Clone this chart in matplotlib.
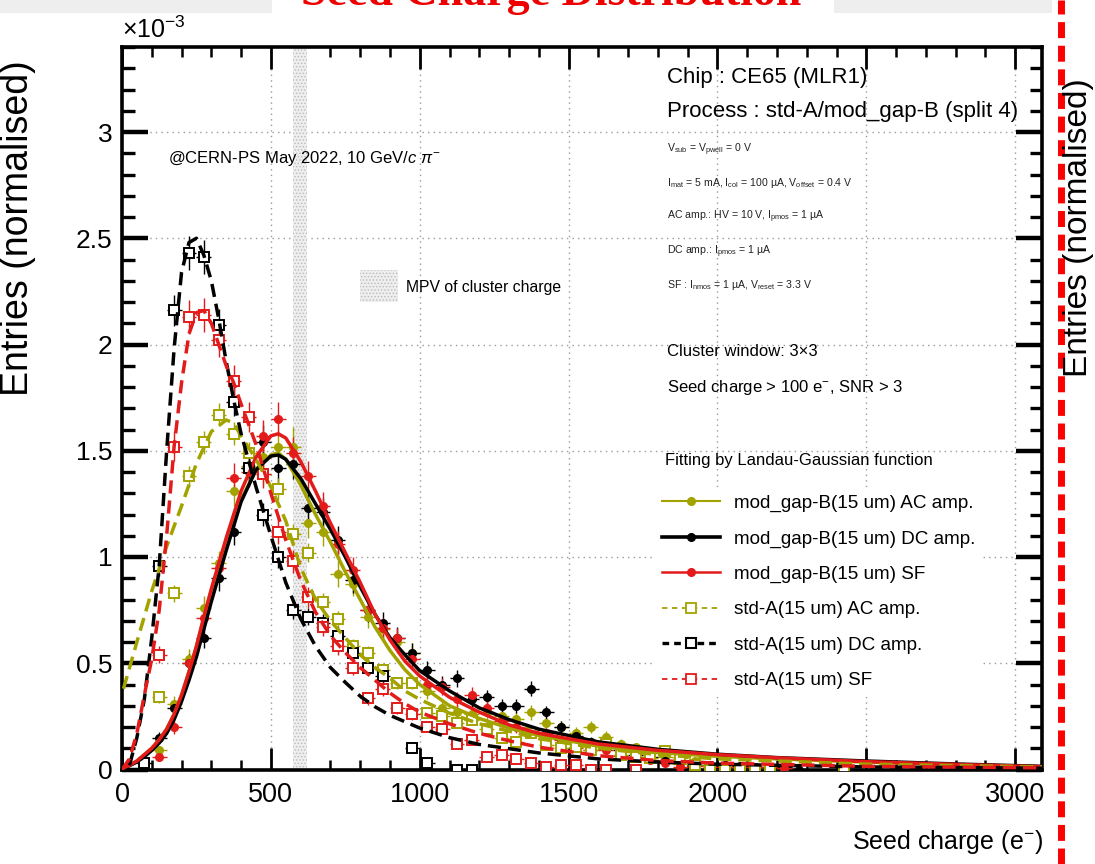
import matplotlib
matplotlib.use('Agg')
import matplotlib.pyplot as plt
from matplotlib.lines import Line2D
from matplotlib.patches import Rectangle
from matplotlib.ticker import MultipleLocator, FuncFormatter

plt.rcParams['font.family'] = ['Liberation Sans', 'DejaVu Sans']
plt.rcParams['mathtext.fontset'] = 'custom'
plt.rcParams['mathtext.rm'] = 'Liberation Sans'
plt.rcParams['mathtext.it'] = 'Liberation Sans:italic'
plt.rcParams['mathtext.bf'] = 'Liberation Sans:bold'
plt.rcParams['hatch.linewidth'] = 0.6

# ---------------- data (y in units of 1e-3) ----------------
BIN_HALF_WIDTH = 25

B_AC_X = [125, 175, 225, 275, 325, 375, 425, 475, 525, 575, 625, 675, 725, 775, 825, 875, 925, 975,
          1025, 1075, 1125, 1175, 1225, 1275, 1325, 1375, 1425, 1475, 1525, 1575, 1625, 1675, 1725,
          1775, 1825, 1875, 1925, 1975, 2025, 2075, 2125, 2175, 2225]
B_AC_Y = [0.09, 0.31, 0.52, 0.76, 0.97, 1.31, 1.43, 1.47, 1.52, 1.52, 1.16, 1.12, 0.92, 0.875, 0.72,
          0.66, 0.60, 0.55, 0.37, 0.29, 0.27, 0.26, 0.27, 0.25, 0.24, 0.27, 0.22, 0.20, 0.17, 0.20,
          0.155, 0.12, 0.105, 0.08, 0.06, 0.025, 0.04, 0.02, 0.02, 0.015, 0.01, 0.01, 0.005]
B_AC_E = [0.02, 0.035, 0.045, 0.055, 0.06, 0.07, 0.075, 0.075, 0.08, 0.09, 0.07, 0.07, 0.06, 0.06, 0.055,
          0.05, 0.05, 0.045, 0.04, 0.035, 0.035, 0.035, 0.035, 0.035, 0.03, 0.035, 0.03, 0.03, 0.028,
          0.03, 0.025, 0.022, 0.02, 0.018, 0.016, 0.01, 0.012, 0.008, 0.008, 0.007, 0.006, 0.006, 0.005]

B_DC_X = [125, 175, 225, 275, 325, 375, 425, 475, 525, 575, 625, 675, 725, 775, 825, 875, 925, 975,
          1025, 1075, 1125, 1175, 1225, 1275, 1325, 1375, 1425, 1475, 1525, 1575, 1625, 1675, 1725,
          1775, 1825, 1875, 1925, 1975, 2025, 2075, 2125, 2175, 2225, 2275]
B_DC_Y = [0.15, 0.29, 0.50, 0.62, 0.90, 1.12, 1.42, 1.54, 1.42, 1.44, 1.23, 1.21, 1.08, 0.89, 0.75,
          0.69, 0.62, 0.55, 0.47, 0.40, 0.43, 0.33, 0.34, 0.30, 0.30, 0.38, 0.27, 0.20, 0.16, 0.13,
          0.11, 0.09, 0.07, 0.06, 0.04, 0.04, 0.03, 0.02, 0.02, 0.015, 0.01, 0.01, 0.01, 0.0]
B_DC_E = [0.025, 0.035, 0.045, 0.05, 0.06, 0.065, 0.075, 0.08, 0.075, 0.075, 0.07, 0.07, 0.065, 0.06,
          0.055, 0.05, 0.05, 0.045, 0.042, 0.04, 0.04, 0.035, 0.035, 0.033, 0.033, 0.035, 0.03, 0.027,
          0.024, 0.022, 0.02, 0.018, 0.016, 0.015, 0.012, 0.012, 0.011, 0.009, 0.009, 0.008, 0.006,
          0.006, 0.006, 0.004]

B_SF_X = [125, 175, 225, 275, 325, 375, 425, 475, 525, 575, 625, 675, 725, 775, 825, 875, 925, 975,
          1025, 1075, 1125, 1175, 1225, 1275, 1325, 1375, 1425, 1475, 1525, 1575, 1625, 1675, 1725,
          1775, 1825, 1875, 1925, 1975, 2025, 2075, 2125, 2175, 2225]
B_SF_Y = [0.06, 0.20, 0.50, 0.715, 0.95, 1.37, 1.40, 1.57, 1.65, 1.49, 1.38, 1.24, 1.06, 0.94, 0.75,
          0.665, 0.62, 0.52, 0.40, 0.39, 0.33, 0.35, 0.29, 0.23, 0.20, 0.18, 0.17, 0.14, 0.10, 0.09,
          0.09, 0.065, 0.06, 0.045, 0.03, 0.01, 0.015, 0.013, 0.01, 0.01, 0.01, 0.01, 0.005]
B_SF_E = [0.018, 0.032, 0.045, 0.055, 0.06, 0.07, 0.07, 0.075, 0.08, 0.075, 0.072, 0.068, 0.062, 0.06,
          0.052, 0.05, 0.048, 0.045, 0.04, 0.04, 0.035, 0.036, 0.032, 0.028, 0.026, 0.025, 0.025,
          0.022, 0.018, 0.018, 0.018, 0.015, 0.015, 0.013, 0.01, 0.006, 0.008, 0.007, 0.006, 0.006,
          0.006, 0.006, 0.004]

A_AC_X = [125, 175, 225, 275, 325, 375, 425, 475, 525, 575, 625, 675, 725, 775, 825, 875, 925, 975,
          1025, 1075, 1125, 1175, 1225, 1275, 1325, 1375, 1425, 1475, 1525, 1575, 1625, 1675, 1725,
          1775, 1825, 1875, 1925, 1975, 2025, 2075, 2125, 2175, 2425]
A_AC_Y = [0.34, 0.83, 1.38, 1.54, 1.67, 1.58, 1.49, 1.39, 1.32, 1.11, 1.02, 0.79, 0.71, 0.58, 0.55,
          0.47, 0.405, 0.405, 0.265, 0.25, 0.22, 0.235, 0.19, 0.15, 0.13, 0.17, 0.115, 0.10, 0.107,
          0.09, 0.12, 0.07, 0.06, 0.053, 0.088, 0.053, 0.02, 0.0, 0.0, 0.0, 0.0, 0.0, 0.0]
A_AC_E = [0.025, 0.04, 0.05, 0.055, 0.055, 0.055, 0.052, 0.05, 0.05, 0.045, 0.045, 0.04, 0.038, 0.034,
          0.033, 0.03, 0.028, 0.028, 0.022, 0.022, 0.02, 0.021, 0.019, 0.017, 0.016, 0.018, 0.015,
          0.014, 0.014, 0.013, 0.015, 0.012, 0.011, 0.01, 0.013, 0.01, 0.006, 0.003, 0.003, 0.003,
          0.003, 0.003, 0.003]

A_DC_X = [75, 125, 175, 225, 275, 325, 375, 425, 475, 525, 575, 625, 675, 725, 775, 825, 875, 975,
          1025, 1125, 1175]
A_DC_Y = [0.03, 0.96, 2.16, 2.43, 2.41, 2.09, 1.73, 1.42, 1.20, 1.00, 0.75, 0.72, 0.69, 0.63, 0.55,
          0.48, 0.44, 0.10, 0.03, 0.0, 0.0]
A_DC_E = [0.01, 0.05, 0.075, 0.08, 0.08, 0.075, 0.068, 0.06, 0.055, 0.05, 0.043, 0.042, 0.041, 0.039,
          0.037, 0.034, 0.033, 0.016, 0.009, 0.003, 0.003]

A_SF_X = [125, 175, 225, 275, 325, 375, 425, 475, 525, 575, 625, 675, 725, 775, 825, 875, 925, 975,
          1025, 1075, 1125, 1175, 1225, 1275, 1325, 1375, 1425, 1475, 1525, 1575, 1625, 1725]
A_SF_Y = [0.54, 1.52, 2.13, 2.14, 2.02, 1.83, 1.66, 1.39, 1.12, 0.98, 0.81, 0.67, 0.58, 0.48, 0.335,
          0.38, 0.29, 0.26, 0.20, 0.19, 0.12, 0.14, 0.06, 0.07, 0.05, 0.03, 0.013, 0.02, 0.02, 0.0,
          0.0, 0.0]
A_SF_E = [0.04, 0.07, 0.08, 0.08, 0.078, 0.074, 0.07, 0.064, 0.057, 0.053, 0.048, 0.043, 0.04, 0.036,
          0.03, 0.032, 0.028, 0.026, 0.023, 0.022, 0.017, 0.019, 0.012, 0.013, 0.011, 0.009, 0.006,
          0.007, 0.007, 0.003, 0.003, 0.003]

# Landau-Gaussian fit curves
FIT_B_X = [0, 25, 50, 75, 100, 125, 150, 175, 200, 225, 250, 275, 300, 350, 400, 450, 500, 525, 550,
           600, 650, 700, 750, 800, 850, 900, 950, 1000, 1100, 1200, 1300, 1400, 1500, 1600, 1800,
           2000, 2200, 2500, 2800, 3090]
FIT_B_AC_Y = [0.005, 0.02, 0.04, 0.07, 0.10, 0.14, 0.19, 0.26, 0.35, 0.46, 0.58, 0.71, 0.84, 1.07,
              1.27, 1.41, 1.48, 1.49, 1.46, 1.34, 1.20, 1.07, 0.93, 0.80, 0.67, 0.56, 0.47, 0.40, 0.30,
              0.24, 0.195, 0.16, 0.135, 0.11, 0.08, 0.062, 0.05, 0.035, 0.022, 0.013]
FIT_B_DC_Y = [0.005, 0.018, 0.035, 0.06, 0.09, 0.125, 0.17, 0.235, 0.32, 0.42, 0.53, 0.66, 0.79, 1.03,
              1.26, 1.41, 1.475, 1.48, 1.46, 1.37, 1.25, 1.13, 1.0, 0.86, 0.73, 0.62, 0.54, 0.465,
              0.37, 0.29, 0.235, 0.19, 0.16, 0.13, 0.095, 0.072, 0.056, 0.04, 0.026, 0.015]
FIT_B_SF_Y = [0.005, 0.02, 0.04, 0.07, 0.10, 0.14, 0.19, 0.26, 0.35, 0.46, 0.58, 0.72, 0.85, 1.09,
              1.31, 1.47, 1.57, 1.58, 1.56, 1.45, 1.31, 1.16, 1.02, 0.88, 0.73, 0.61, 0.51, 0.44, 0.34,
              0.27, 0.21, 0.17, 0.145, 0.12, 0.09, 0.07, 0.055, 0.037, 0.024, 0.013]

FIT_A_AC_X = [5, 50, 100, 150, 200, 250, 300, 350, 375, 400, 450, 500, 550, 600, 650, 700, 750, 800,
              850, 900, 950, 1000, 1100, 1200, 1300, 1400, 1600, 1800, 2000, 2500, 3090]
FIT_A_AC_Y = [0.38, 0.60, 0.84, 1.05, 1.24, 1.44, 1.59, 1.645, 1.63, 1.57, 1.46, 1.33, 1.17, 0.95, 0.80,
              0.70, 0.62, 0.54, 0.48, 0.43, 0.37, 0.33, 0.265, 0.215, 0.18, 0.145, 0.10, 0.07, 0.05,
              0.025, 0.012]
FIT_A_DC_X = [25, 50, 75, 100, 125, 150, 175, 200, 225, 250, 275, 300, 325, 350, 375, 400, 450, 500,
              550, 600, 650, 700, 750, 800, 850, 900, 1000, 1100, 1200, 1400, 1600, 1800, 2000, 2500, 3090]
FIT_A_DC_Y = [0.02, 0.15, 0.33, 0.62, 0.96, 1.50, 1.98, 2.34, 2.48, 2.50, 2.42, 2.30, 2.12, 1.92, 1.74,
              1.58, 1.33, 1.10, 0.88, 0.71, 0.58, 0.48, 0.41, 0.345, 0.295, 0.255, 0.195, 0.15, 0.118,
              0.078, 0.05, 0.035, 0.025, 0.012, 0.006]
FIT_A_SF_X = [0, 25, 50, 75, 100, 125, 150, 175, 200, 225, 250, 275, 300, 325, 350, 375, 400, 450, 500,
              550, 600, 650, 700, 750, 800, 850, 900, 950, 1000, 1100, 1200, 1300, 1400, 1600, 1800,
              2000, 2500, 3090]
FIT_A_SF_Y = [0.0, 0.05, 0.17, 0.35, 0.52, 0.75, 1.10, 1.52, 1.82, 2.05, 2.15, 2.16, 2.10, 2.00, 1.90,
              1.82, 1.72, 1.53, 1.30, 1.08, 0.89, 0.74, 0.63, 0.55, 0.48, 0.42, 0.36, 0.31, 0.27, 0.215,
              0.17, 0.135, 0.105, 0.065, 0.042, 0.03, 0.015, 0.008]

MPV_LO, MPV_HI = 575, 620

LABELS = ['mod_gap-B(15 um) AC amp.', 'mod_gap-B(15 um) DC amp.', 'mod_gap-B(15 um) SF',
          'std-A(15 um) AC amp.', 'std-A(15 um) DC amp.', 'std-A(15 um) SF']
X_TICKS = [0, 500, 1000, 1500, 2000, 2500, 3000]
Y_TICKS = [0, 0.5, 1, 1.5, 2, 2.5, 3]

OLIVE = '#a3a300'
BLACK = '#000000'
RED = '#e31b1b'

# ---------------- figure ----------------
W, H = 1095, 864
fig = plt.figure(figsize=(W / 100, H / 100), dpi=100)


def fx(px):
    return px / W


def fy(py):
    return 1 - py / H


# slide decorations
fig.patches.append(Rectangle((0, fy(13)), fx(272), fy(0) - fy(13), transform=fig.transFigure,
                             facecolor='#eeeeee', edgecolor='none', zorder=0))
fig.patches.append(Rectangle((fx(834), fy(13)), fx(1052) - fx(834), fy(0) - fy(13),
                             transform=fig.transFigure, facecolor='#eeeeee', edgecolor='none', zorder=0))
fig.text(fx(551), fy(5), 'Seed Charge Distribution', color='#ee0000', fontsize=33, fontweight='bold',
         family=['Liberation Serif', 'DejaVu Serif'], ha='center', va='baseline')
fig.add_artist(Line2D([fx(1061), fx(1061)], [0, 1], transform=fig.transFigure, color='#ff0000',
                      lw=5, dashes=(2.3, 1.1)))

ax = fig.add_axes([fx(122), fy(769.5), fx(1042) - fx(122), fy(47) - fy(769.5)])
ax.set_xlim(0, 3090)
ax.set_ylim(0, 3.40)

# MPV band
ax.axvspan(MPV_LO, MPV_HI, facecolor='#eeeeee', edgecolor='#bbbbbb', hatch='.....', lw=0, zorder=1)

series = [
    (B_AC_X, B_AC_Y, B_AC_E, OLIVE, 'o', True, FIT_B_X, FIT_B_AC_Y, '-'),
    (B_DC_X, B_DC_Y, B_DC_E, BLACK, 'o', True, FIT_B_X, FIT_B_DC_Y, '-'),
    (B_SF_X, B_SF_Y, B_SF_E, RED, 'o', True, FIT_B_X, FIT_B_SF_Y, '-'),
    (A_AC_X, A_AC_Y, A_AC_E, OLIVE, 's', False, FIT_A_AC_X, FIT_A_AC_Y, '--'),
    (A_DC_X, A_DC_Y, A_DC_E, BLACK, 's', False, FIT_A_DC_X, FIT_A_DC_Y, '--'),
    (A_SF_X, A_SF_Y, A_SF_E, RED, 's', False, FIT_A_SF_X, FIT_A_SF_Y, '--'),
]

for xs, ys, es, col, mk, filled, fxs, fys, ls in series:
    ax.errorbar(xs, ys, yerr=es, xerr=BIN_HALF_WIDTH, fmt=mk, color=col, ecolor=col, elinewidth=1.0,
                capsize=0, markersize=5.5 if filled else 6.8,
                markerfacecolor=col if filled else 'white', markeredgecolor=col,
                markeredgewidth=1.0 if filled else 1.4, zorder=3)
for xs, ys, es, col, mk, filled, fxs, fys, ls in series:
    if ls == '-':
        ax.plot(fxs, fys, color=col, lw=2.5, solid_capstyle='round', solid_joinstyle='round', zorder=4)
    else:
        ax.plot(fxs, fys, color=col, lw=2.5, dashes=(3.8, 2.0), zorder=4)

# axes styling
ax.set_xticks(X_TICKS)
ax.set_yticks(Y_TICKS)
ax.xaxis.set_minor_locator(MultipleLocator(100))
ax.yaxis.set_minor_locator(MultipleLocator(0.1))
ax.xaxis.set_major_formatter(FuncFormatter(lambda v, p: f'{v:g}'))
ax.yaxis.set_major_formatter(FuncFormatter(lambda v, p: f'{v:g}'))
ax.tick_params(axis='both', which='both', direction='in', top=True, right=True)
ax.tick_params(axis='y', which='major', length=19, width=3.2, labelsize=19, pad=7)
ax.tick_params(axis='y', which='minor', length=9, width=2.4)
ax.tick_params(axis='x', which='major', length=16, width=2.0, labelsize=19.5, pad=9)
ax.tick_params(axis='x', which='minor', length=7, width=1.8)
for s in ax.spines.values():
    s.set_linewidth(2.6)
ax.grid(True, which='major', color='#999999', linestyle=(0, (1, 3)), linewidth=1.0)
ax.set_axisbelow(True)

# MPV legend
mpv_box = Rectangle((fx(360), fy(302)), fx(398) - fx(360), fy(270) - fy(302), transform=fig.transFigure,
                    facecolor='#eeeeee', edgecolor='#bbbbbb', hatch='.....', lw=0, zorder=2)
fig.patches.append(mpv_box)
fig.text(fx(406), fy(288), 'MPV of cluster charge', fontsize=11.3, va='center')

# annotations
fig.text(fx(168), fy(158), r'@CERN-PS May 2022, 10 GeV/$\mathit{c}$ $\pi^{-}$', fontsize=12, va='center')
fig.text(fx(667), fy(78), 'Chip : CE65 (MLR1)', fontsize=16, va='center')
fig.text(fx(667), fy(112), 'Process : std-A/mod_gap-B (split 4)', fontsize=16, va='center')
small = [
    (150, r'V$_{\mathrm{sub}}$ = V$_{\mathrm{pwell}}$ = 0 V'),
    (183, r'I$_{\mathrm{mat}}$ = 5 mA, I$_{\mathrm{col}}$ = 100 µA, V$_{\mathrm{offset}}$ = 0.4 V'),
    (217, r'AC amp.: HV = 10 V, I$_{\mathrm{pmos}}$ = 1 µA'),
    (252, r'DC amp.: I$_{\mathrm{pmos}}$ = 1 µA'),
    (285, r'SF : I$_{\mathrm{nmos}}$ = 1 µA, V$_{\mathrm{reset}}$ = 3.3 V'),
]
for py, s in small:
    fig.text(fx(667), fy(py), s, fontsize=7.6, va='center', color='#222222')
fig.text(fx(667), fy(352), 'Cluster window: 3×3', fontsize=12, va='center')
fig.text(fx(667), fy(387), r'Seed charge > 100 e$^{-}$, SNR > 3', fontsize=12, va='center')
fig.text(fx(665), fy(461), 'Fitting by Landau-Gaussian function', fontsize=12, va='center')

# legend
handles = [
    Line2D([], [], color=OLIVE, lw=1.5, marker='o', markersize=5.5, mfc=OLIVE, mec=OLIVE),
    Line2D([], [], color=BLACK, lw=2.6, marker='o', markersize=5.5, mfc=BLACK, mec=BLACK),
    Line2D([], [], color=RED, lw=1.8, marker='o', markersize=5.5, mfc=RED, mec=RED),
    Line2D([], [], color=OLIVE, lw=1.3, dashes=(3, 2.5), marker='s', markersize=6.5, mfc='white',
           mec=OLIVE, mew=1.3),
    Line2D([], [], color=BLACK, lw=2.4, dashes=(2, 1.5), marker='s', markersize=6.5, mfc='white',
           mec=BLACK, mew=1.5),
    Line2D([], [], color=RED, lw=1.3, dashes=(3, 2.5), marker='s', markersize=6.5, mfc='white',
           mec=RED, mew=1.3),
]
leg = ax.legend(handles, LABELS, loc='upper left', bbox_to_anchor=(fx(654), fy(487)),
                bbox_transform=fig.transFigure, borderaxespad=0, borderpad=0.4, fontsize=13.6,
                labelspacing=0.96, handlelength=3.1, handletextpad=0.75, frameon=True,
                fancybox=False, facecolor='white', edgecolor='none', framealpha=1.0)
leg.set_zorder(5)

# axis titles
fig.text(fx(122), fy(30), r'×10$^{-3}$', fontsize=18, va='center', ha='left')
fig.text(fx(1043), fy(842), r'Seed charge (e$^{-}$)', fontsize=18, ha='right', va='center')
fig.text(fx(18), fy(228), 'Entries (normalised)', fontsize=27, rotation=90, ha='center', va='center')
fig.text(fx(1079), fy(228), 'Entries (normalised)', fontsize=24, rotation=90, ha='center', va='center')

fig.savefig('out.png', dpi=100)
